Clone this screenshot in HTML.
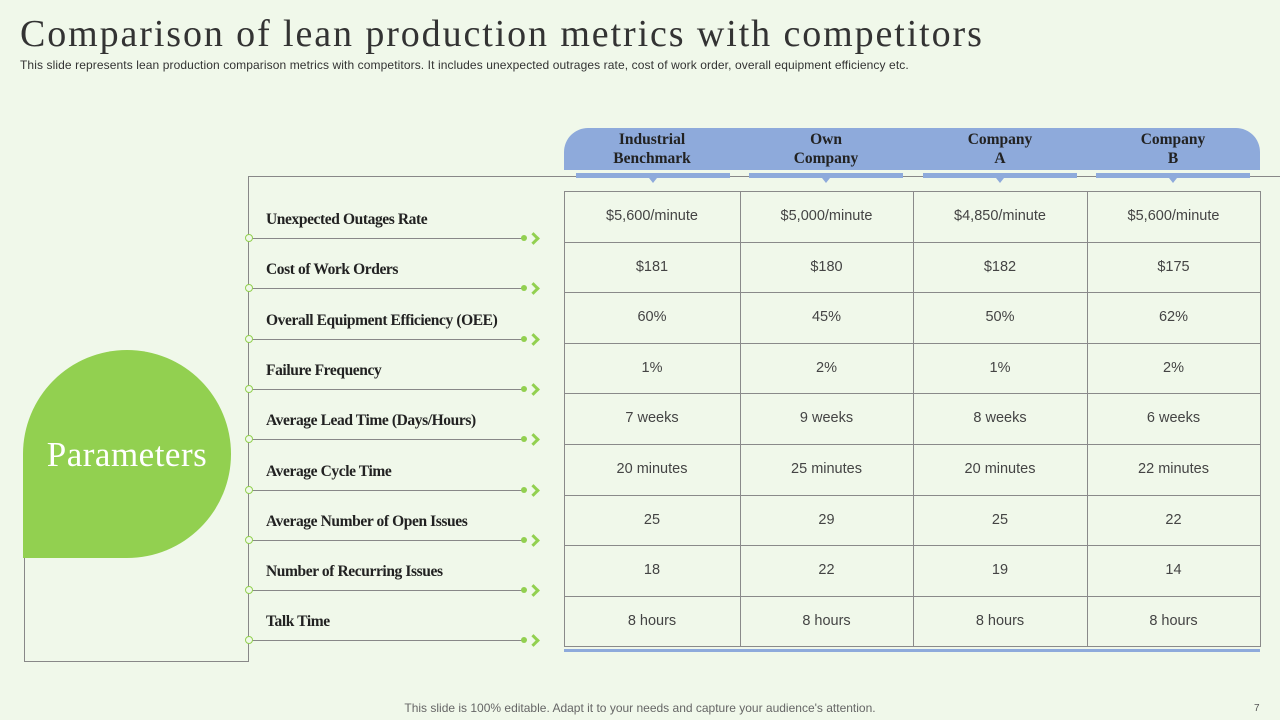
<!DOCTYPE html>
<html><head><meta charset="utf-8"><style>
body{margin:0;width:1280px;height:720px;background:#f0f8ea;position:relative;overflow:hidden;font-family:"Liberation Sans",sans-serif}
.a{position:absolute}
h1{position:absolute;left:20px;top:12px;margin:0;font:400 38px "Liberation Serif",serif;color:#333;letter-spacing:1.9px;white-space:nowrap}
.sub{left:20px;top:58px;font-size:12px;color:#333;letter-spacing:0.1px}
.lbl{font:700 15.5px "Liberation Serif",serif;color:#222;left:266px;letter-spacing:-0.4px}
.ln{left:249px;width:276px;height:1px;background:#888}
.c{width:6px;height:6px;border:1.5px solid #92d050;border-radius:50%;background:#f0f8ea}
.d{width:6px;height:6px;border-radius:50%;background:#92d050}
.ch{width:6px;height:6px;border-right:3px solid #92d050;border-top:3px solid #92d050;transform:rotate(45deg)}
.cell{position:absolute;text-align:center;font-size:14.5px;color:#444;box-sizing:border-box}
.hd{left:564px;top:128px;width:696px;height:42px;background:#8eaadb;border-radius:24px 24px 0 0}
.ht{top:130px;width:174px;text-align:center;font:700 15.5px/19px "Liberation Serif",serif;color:#222}
.bar{top:173px;height:5px;background:#8eaadb;width:154px}
.tri{top:178px;width:0;height:0;border-left:4px solid transparent;border-right:4px solid transparent;border-top:5px solid #8eaadb}
</style></head><body>
<h1>Comparison of lean production metrics with competitors</h1>
<div class="a sub">This slide represents lean production comparison metrics with competitors. It includes unexpected outrages rate, cost of work order, overall equipment efficiency etc.</div>
<div class="a" style="left:248px;top:176px;width:1032px;height:1px;background:#888"></div>
<div class="a" style="left:248px;top:176px;width:1px;height:485px;background:#888"></div>
<div class="a" style="left:24px;top:661px;width:225px;height:1px;background:#888"></div>
<div class="a" style="left:24px;top:555px;width:1px;height:106px;background:#888"></div>
<div class="a" style="left:23px;top:350px;width:208px;height:208px;background:#92d050;border-radius:104px 104px 104px 0"></div>
<div class="a" style="left:15px;top:435px;width:224px;text-align:center;font:400 35px 'Liberation Serif',serif;color:#fff;letter-spacing:0.5px">Parameters</div>
<div class="a hd"></div>
<div class="a ht" style="left:565px">Industrial<br>Benchmark</div>
<div class="a ht" style="left:739px">Own<br>Company</div>
<div class="a ht" style="left:913px">Company<br>A</div>
<div class="a ht" style="left:1086px">Company<br>B</div>
<div class="a bar" style="left:576px"></div><div class="a tri" style="left:649px"></div>
<div class="a bar" style="left:749px"></div><div class="a tri" style="left:822px"></div>
<div class="a bar" style="left:923px"></div><div class="a tri" style="left:996px"></div>
<div class="a bar" style="left:1096px"></div><div class="a tri" style="left:1169px"></div>
<div id="rows"></div>
<div id="tbl"></div>
<div class="a" style="left:564px;top:649px;width:696px;height:3px;background:#8eaadb"></div>
<div class="a" style="left:0;top:701px;width:1280px;text-align:center;font-size:12px;color:#666">This slide is 100% editable. Adapt it to your needs and capture your audience's attention.</div>
<div class="a" style="left:1254px;top:703px;font-size:10px;color:#555">7</div>
<script>
var L=["Unexpected Outages Rate","Cost of Work Orders","Overall Equipment Efficiency (OEE)","Failure Frequency","Average Lead Time (Days/Hours)","Average Cycle Time","Average Number of Open Issues","Number of Recurring Issues","Talk Time"],h="";
for(var i=0;i<9;i++){var y=Math.round(238+i*50.3);
h+='<div class="a lbl" style="top:'+(y-27)+'px">'+L[i]+'</div><div class="a ln" style="top:'+y+'px"></div><div class="a c" style="left:245px;top:'+(y-4)+'px"></div><div class="a d" style="left:521px;top:'+(y-3)+'px"></div><div class="a ch" style="left:529px;top:'+(y-4)+'px"></div>';}
document.getElementById('rows').innerHTML=h;
var D=[["$5,600/minute","$5,000/minute","$4,850/minute","$5,600/minute"],["$181","$180","$182","$175"],["60%","45%","50%","62%"],["1%","2%","1%","2%"],["7 weeks","9 weeks","8 weeks","6 weeks"],["20 minutes","25 minutes","20 minutes","22 minutes"],["25","29","25","22"],["18","22","19","14"],["8 hours","8 hours","8 hours","8 hours"]];
var X=[564,740,913,1087,1260],t="";
for(var r=0;r<=9;r++){var y=Math.round(191+r*50.6);t+='<div class="a" style="left:564px;top:'+y+'px;width:697px;height:1px;background:#8a8a8a"></div>';}
for(var k=0;k<5;k++)t+='<div class="a" style="left:'+X[k]+'px;top:191px;width:1px;height:456px;background:#8a8a8a"></div>';
for(var r=0;r<9;r++)for(var k=0;k<4;k++){var y=191+r*50.6;t+='<div class="cell" style="left:'+X[k]+'px;width:'+(X[k+1]-X[k])+'px;top:'+(y+17)+'px">'+D[r][k]+'</div>';}
document.getElementById('tbl').innerHTML=t;
</script>
</body></html>
